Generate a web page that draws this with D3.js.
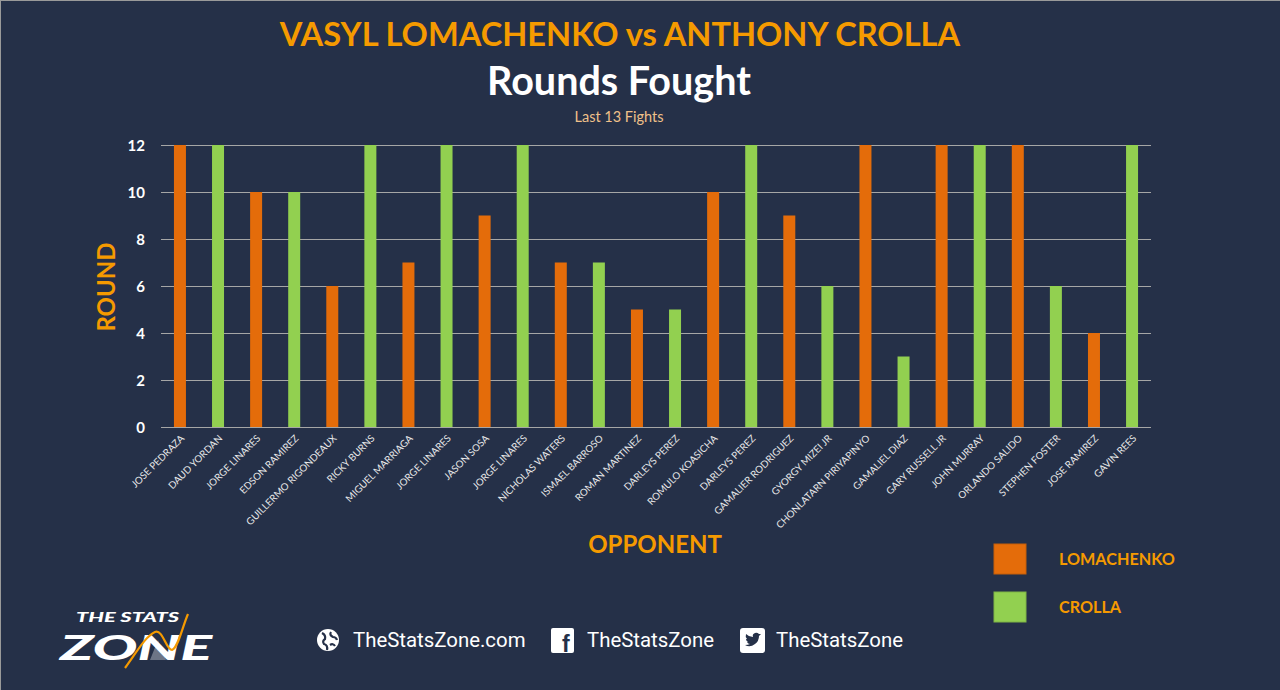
<!DOCTYPE html>
<html><head><meta charset="utf-8">
<script src="https://cdn.jsdelivr.net/npm/d3@7"></script>
<style>
html,body{margin:0;padding:0;background:#253048;}
svg{display:block;}
</style></head>
<body>
<svg id="c" width="1280" height="690"></svg>
<script>
const opponents = ["JOSE PEDRAZA","DAUD YORDAN","JORGE LINARES","EDSON RAMIREZ","GUILLERMO RIGONDEAUX","RICKY BURNS","MIGUEL MARRIAGA","JORGE LINARES","JASON SOSA","JORGE LINARES","NICHOLAS WATERS","ISMAEL BARROSO","ROMAN MARTINEZ","DARLEYS PEREZ","ROMULO KOASICHA","DARLEYS PEREZ","GAMALIER RODRIGUEZ","GYORGY MIZEI JR","CHONLATARN PIRIYAPINYO","GAMALIEL DIAZ","GARY RUSSELL JR","JOHN MURRAY","ORLANDO SALIDO","STEPHEN FOSTER","JOSE RAMIREZ","GAVIN REES"];
const fighters = ["LOMACHENKO","CROLLA","LOMACHENKO","CROLLA","LOMACHENKO","CROLLA","LOMACHENKO","CROLLA","LOMACHENKO","CROLLA","LOMACHENKO","CROLLA","LOMACHENKO","CROLLA","LOMACHENKO","CROLLA","LOMACHENKO","CROLLA","LOMACHENKO","CROLLA","LOMACHENKO","CROLLA","LOMACHENKO","CROLLA","LOMACHENKO","CROLLA"];
const rounds = [12,12,10,10,6,12,7,12,9,12,7,7,5,5,10,12,9,6,12,3,12,12,12,6,4,12];
const seriesNames = ["LOMACHENKO","CROLLA"];
const yTicks = [0,2,4,6,8,10,12];

(function(){
const colors = {LOMACHENKO:"#E46C0A", CROLLA:"#92D050"};
const orange = "#F59A00";
const font = "Lato, 'Open Sans', sans-serif";

const svg = d3.select("#c");
svg.append("rect").attr("width",1280).attr("height",690).attr("fill","#253048");
svg.append("line").attr("x1",0).attr("x2",1280).attr("y1",0.5).attr("y2",0.5).attr("stroke","#9a9a9a");
svg.append("line").attr("x1",0.5).attr("x2",0.5).attr("y1",0).attr("y2",690).attr("stroke","#9a9a9a");

const data = opponents.map((o,i)=>({key:i, name:o, fighter:fighters[i], value:rounds[i]}));

const pL=161, pR=1151, pT=145, pB=427;
const x = d3.scaleBand().domain(data.map(d=>d.key)).range([pL,pR]).paddingInner(0.685).paddingOuter(0.34);
const y = d3.scaleLinear().domain([0,12]).range([pB,pT]);

svg.append("g").selectAll("line").data(yTicks).join("line")
  .attr("x1",pL).attr("x2",pR)
  .attr("y1",d=>Math.round(y(d))+0.5).attr("y2",d=>Math.round(y(d))+0.5)
  .attr("stroke","#a6a6a6").attr("stroke-width",1);

const yAxis = d3.axisLeft(y).tickValues(yTicks).tickSize(0).tickPadding(0);
const yg = svg.append("g").attr("transform",`translate(${pL-16},0)`).call(yAxis);
yg.select(".domain").remove();
yg.selectAll("text").attr("fill","#ffffff").attr("font-family",font).attr("font-weight","bold").attr("font-size",15).attr("dy","0.35em");

svg.append("g").selectAll("rect").data(data).join("rect")
  .attr("x",d=>x(d.key)).attr("width",x.bandwidth())
  .attr("y",d=>y(d.value)).attr("height",d=>y(0)-y(d.value))
  .attr("fill",d=>colors[d.fighter]);

const xAxis = d3.axisBottom(x).tickSize(0).tickFormat(k=>opponents[k]);
const xg = svg.append("g").attr("transform",`translate(0,${pB})`).call(xAxis);
xg.select(".domain").remove();
xg.selectAll(".tick text")
  .attr("fill","#e8e8e8").attr("font-family",font).attr("font-size",9.8)
  .attr("text-anchor","end").attr("dy",0).attr("y",0)
  .attr("transform","translate(5,12) rotate(-45)");

svg.append("text").attr("x",620).attr("y",46).attr("text-anchor","middle")
  .attr("fill",orange).attr("font-family",font).attr("font-weight","bold").attr("font-size",32.6)
  .text("VASYL LOMACHENKO vs ANTHONY CROLLA");
svg.append("text").attr("x",619).attr("y",95).attr("text-anchor","middle")
  .attr("fill","#ffffff").attr("font-family",font).attr("font-weight","bold").attr("font-size",39.5)
  .text("Rounds Fought");
svg.append("text").attr("x",619).attr("y",122).attr("text-anchor","middle")
  .attr("fill","#F0C08A").attr("font-family",font).attr("font-size",14.5)
  .text("Last 13 Fights");

svg.append("text").attr("transform","translate(115,287) rotate(-90)").attr("text-anchor","middle")
  .attr("fill",orange).attr("font-family",font).attr("font-weight","bold").attr("font-size",24)
  .text("ROUND");
svg.append("text").attr("x",655).attr("y",553).attr("text-anchor","middle")
  .attr("fill",orange).attr("font-family",font).attr("font-weight","bold").attr("font-size",24)
  .text("OPPONENT");

const lg = svg.append("g").selectAll("g").data(seriesNames).join("g")
  .attr("transform",(d,i)=>`translate(994,${544+i*48})`);
lg.append("rect").attr("width",32).attr("height",30).attr("fill",d=>colors[d])
  .attr("stroke",d=>d3.color(colors[d]).darker(0.4)).attr("stroke-width",1);
lg.append("text").attr("x",65).attr("y",21).attr("fill",orange).attr("font-family",font)
  .attr("font-weight","bold").attr("font-size",16.2).text(d=>d);

// logo
const logo = svg.append("g");
logo.append("path").attr("d","M150,660 L158,640 L166,660 Z").attr("fill","#7f8796").attr("opacity",0.8);
logo.append("text").attr("x",76).attr("y",622).attr("fill","#fff").attr("font-family",font)
  .attr("font-weight","900").attr("font-style","italic").attr("font-size",13)
  .attr("textLength",103).attr("lengthAdjust","spacingAndGlyphs").text("THE STATS");
logo.append("text").attr("x",60).attr("y",660).attr("fill","#fff").attr("font-family",font)
  .attr("font-weight","900").attr("font-style","italic").attr("font-size",34)
  .attr("textLength",152).attr("lengthAdjust","spacingAndGlyphs").text("ZONE");
logo.append("path").attr("d","M125,668 C138,650 146,636 155,632 C163,629 166,650 172,650 C178,648 182,628 188,614")
  .attr("fill","none").attr("stroke","#F59A00").attr("stroke-width",2.2);

const fText = "'Roboto', 'Open Sans', sans-serif";
const fy = 647;
svg.append("circle").attr("cx",328).attr("cy",640).attr("r",11).attr("fill","#fff");
svg.append("path").attr("d","M322,633 q4,2 3,6 q-3,2 -1,5 q4,1 3,6 M331,632 q-2,3 2,5 q3,0 4,3 M330,645 q3,-2 5,1")
  .attr("fill","none").attr("stroke","#253048").attr("stroke-width",2.2);
svg.append("text").attr("x",353).attr("y",fy).attr("fill","#fff").attr("font-family",fText)
  .attr("font-size",20.4).text("TheStatsZone.com");
svg.append("rect").attr("x",551).attr("y",628).attr("width",23).attr("height",25).attr("rx",2).attr("fill","#fff");
svg.append("text").attr("x",562).attr("y",652).attr("fill","#253048").attr("font-family","Arial, 'Liberation Sans', sans-serif")
  .attr("font-weight","bold").attr("font-size",23).text("f");
svg.append("text").attr("x",587).attr("y",fy).attr("fill","#fff").attr("font-family",fText)
  .attr("font-size",20.4).text("TheStatsZone");
svg.append("rect").attr("x",740).attr("y",628).attr("width",25).attr("height",25).attr("rx",3).attr("fill","#fff");
svg.append("path").attr("d","M745,645 q5,3 10,-1 q4,-3 4,-8 l2,-2 l-2,0 q-2,-2 -4,-1 q-3,1 -2,4 q-4,0 -7,-3 q-1,3 1,5 l-1,0 q0,2 2,3 l-1,0 q1,2 3,2 q-2,1 -5,1z")
  .attr("fill","#253048");
svg.append("text").attr("x",776).attr("y",fy).attr("fill","#fff").attr("font-family",fText)
  .attr("font-size",20.4).text("TheStatsZone");
})();
</script>
</body></html>
